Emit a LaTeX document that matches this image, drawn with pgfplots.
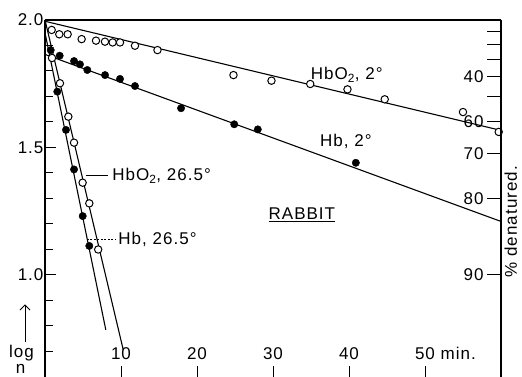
\documentclass[border=0pt]{standalone}
\usepackage{fontspec}
\setmainfont{Liberation Sans}[LetterSpace=6]
\usepackage{pgfplots}
\pgfplotsset{compat=1.18}
\usetikzlibrary{arrows.meta}

\newcommand\lbl{\fontsize{17}{20}\selectfont}

% open circles: oxyhaemoglobin; filled circles: haemoglobin
\pgfplotstableread{
x y
0.92 1.851
1.97 1.752
3.07 1.621
3.82 1.519
4.95 1.362
5.83 1.281
7.00 1.100
}\hboxhot
\pgfplotstableread{
x y
0.75 1.882
1.62 1.719
2.76 1.569
3.82 1.414
4.96 1.231
5.83 1.114
}\hbhot
\pgfplotstableread{
x y
0.88 1.961
1.88 1.944
2.98 1.944
4.82 1.925
6.71 1.919
7.89 1.915
8.90 1.912
9.87 1.912
11.84 1.899
14.80 1.882
24.80 1.784
29.80 1.762
34.90 1.749
39.80 1.728
44.70 1.689
55.00 1.639
59.70 1.561
}\hboxcold
\pgfplotstableread{
x y
1.93 1.860
3.82 1.839
4.60 1.826
5.57 1.804
7.90 1.784
9.87 1.769
11.84 1.741
17.90 1.654
24.90 1.591
28.00 1.571
40.90 1.440
}\hbcold

\begin{document}
\begin{tikzpicture}
\begin{axis}[
  name=main,
  scale only axis, width=456pt, height=357pt,
  xmin=0, xmax=60, ymin=0.6, ymax=2.0,
  axis x line*=bottom, axis y line*=left,
  x axis line style={draw=none},
  y axis line style={line width=1.1pt},
  tick align=inside,
  xtick={10,20,30,40,50},
  xticklabels={10,20,30,40,{50\rlap{ min.}}},
  ytick={1.0,1.5,2.0}, yticklabels={1.0,1.5,2.0},
  minor ytick={0.7,0.8,0.9,1.1,1.2,1.3,1.4,1.6,1.7,1.8,1.9},
  major tick length=11pt, minor tick length=8pt,
  every tick/.style={black, line width=1pt},
  tick label style={font=\lbl},
  xticklabel style={anchor=base, yshift=17pt},
  yticklabel style={xshift=2pt},
  clip=false,
]
% fitted first-order lines
\addplot[black, line width=1.1pt] coordinates {(0,1.995) (60,1.567)};
\addplot[black, line width=1.1pt] coordinates {(0,1.865) (60,1.210)};
\addplot[black, line width=1.1pt] coordinates {(0,2.000) (10.3,0.706)};
\addplot[black, line width=1.1pt] coordinates {(0,1.950) (8.0,0.785)};
% measurements
\addplot[only marks, mark=*, mark size=3.7pt, mark options={draw=black, fill=white, line width=1pt}] table {\hboxcold};
\addplot[only marks, mark=*, mark size=3.7pt, mark options={draw=black, fill=black}] table {\hbcold};
\addplot[only marks, mark=*, mark size=3.7pt, mark options={draw=black, fill=white, line width=1pt}] table {\hboxhot};
\addplot[only marks, mark=*, mark size=3.7pt, mark options={draw=black, fill=black}] table {\hbhot};
% frame top
\draw[line width=1.1pt] (rel axis cs:0,1) -- (rel axis cs:1,1);
\coordinate (O) at (rel axis cs:0,0);
% labels
\node[font=\lbl] at (axis cs:39.7,1.784) {HbO\textsubscript{2}, 2°};
\node[font=\lbl] at (axis cs:39.6,1.522) {Hb, 2°};
\node[font=\lbl] at (axis cs:33.8,1.235) {\underline{RABBIT}};
\draw[line width=0.9pt] (axis cs:5.4,1.39) -- (axis cs:8.3,1.39);
\node[font=\lbl, anchor=west] at (axis cs:8.4,1.39) {HbO\textsubscript{2}, 26.5°};
\draw[line width=0.9pt, dash pattern=on 2pt off 1.5pt] (axis cs:5.5,1.141) -- (axis cs:9.2,1.141);
\node[font=\lbl, anchor=west] at (axis cs:9.2,1.141) {Hb, 26.5°};
% axis caption lower left
\draw[line width=1pt, -{Straight Barb[length=5pt]}] (axis cs:-2.63,0.738) -- (axis cs:-2.63,0.885);
\node[font=\lbl, inner sep=0pt] at (axis cs:-3.1,0.695) {log};
\node[font=\lbl, inner sep=0pt] at (axis cs:-3.2,0.633) {n};
\node[font=\lbl, rotate=90, anchor=west, inner sep=0pt] at (axis cs:61.3,0.99) {\% denatured.};
\end{axis}
% right-hand scale: percent denatured
\begin{axis}[
  scale only axis, width=456pt, height=357pt,
  xmin=0, xmax=60, ymin=0.6, ymax=2.0,
  axis x line=none, axis y line*=right,
  y axis line style={line width=1.1pt},
  tick align=inside,
  ytick={1,1.30103,1.47712,1.60206,1.69897,1.77815,1.84510,1.90309,1.95424},
  yticklabels={90,80,70,60,,40,,,},
  major tick length=14pt,
  every tick/.style={black, line width=1pt},
  yticklabel style={font=\lbl, anchor=east, xshift=-14pt},
]
\end{axis}
\pgfresetboundingbox
\path[use as bounding box] ([shift={(-45pt,0pt)}]O) rectangle ([shift={(477pt,377pt)}]O);
\end{tikzpicture}
\end{document}
